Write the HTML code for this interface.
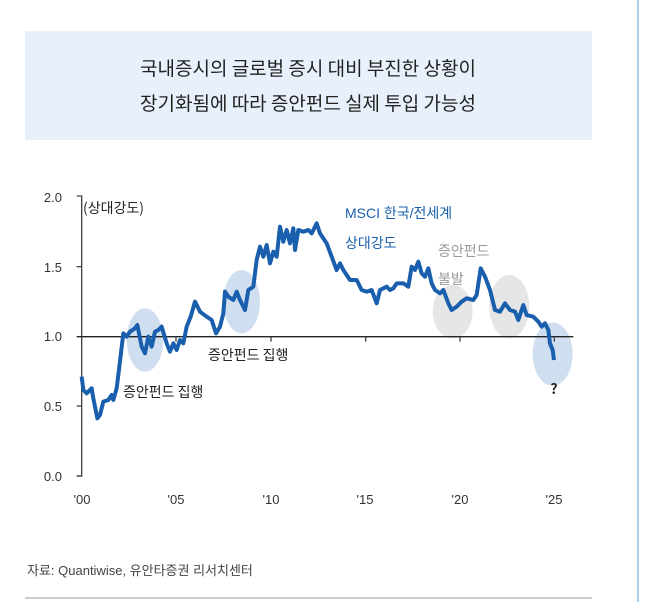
<!DOCTYPE html>
<html><head><meta charset="utf-8"><style>
body{margin:0;background:#fff;width:670px;height:602px;overflow:hidden;font-family:"Liberation Sans","Noto Sans CJK KR",sans-serif;}
</style></head><body>
<svg width="670" height="602" xmlns="http://www.w3.org/2000/svg" style="position:absolute;left:0;top:0">
<rect x="25" y="31" width="567" height="109" fill="#e8f1fb"/>
<line x1="638" y1="0" x2="638" y2="602" stroke="#a9cdee" stroke-width="2"/>
<text x="308" y="75" text-anchor="middle" font-size="19" fill="#222" font-family="Noto Sans CJK KR, sans-serif">국내증시의 글로벌 증시 대비 부진한 상황이</text>
<text x="308" y="110" text-anchor="middle" font-size="19" fill="#222" font-family="Noto Sans CJK KR, sans-serif">장기화됨에 따라 증안펀드 실제 투입 가능성</text>
<g font-size="13" fill="#333" text-anchor="end" font-family="Liberation Sans, sans-serif">
<text x="62" y="202">2.0</text><text x="62" y="272">1.5</text><text x="62" y="341">1.0</text><text x="62" y="411">0.5</text><text x="62" y="481">0.0</text>
</g>
<g font-size="13" fill="#333" text-anchor="middle">
<text x="82" y="504">'00</text><text x="176" y="504">'05</text><text x="271" y="504">'10</text><text x="365" y="504">'15</text><text x="460" y="504">'20</text><text x="554" y="504">'25</text>
</g>
<g transform="translate(60 180) scale(0.33333)">
<ellipse cx="255" cy="480" rx="55" ry="95" fill="#cfdff0"/>
<ellipse cx="545" cy="365" rx="55" ry="95" fill="#cfdff0"/>
<ellipse cx="1178" cy="395" rx="60" ry="80" fill="#e6e6e6"/>
<ellipse cx="1348" cy="380" rx="60" ry="95" fill="#e6e6e6"/>
<ellipse cx="1478" cy="522" rx="60" ry="95" fill="#cfdff0"/>
<polyline fill="none" stroke="#444" stroke-width="4" points="50,48 65,48 65,888 50,888"/>
<line x1="50" y1="888" x2="65" y2="888" stroke="#444" stroke-width="4"/>
<line x1="50" y1="678" x2="65" y2="678" stroke="#444" stroke-width="4"/>
<line x1="50" y1="260" x2="65" y2="260" stroke="#444" stroke-width="4"/>
<line x1="50" y1="470" x2="1540" y2="470" stroke="#222" stroke-width="4"/>
<g stroke="#444" stroke-width="4"><line x1="348" y1="470" x2="348" y2="485"/><line x1="633" y1="470" x2="633" y2="485"/><line x1="917" y1="470" x2="917" y2="485"/><line x1="1200" y1="470" x2="1200" y2="485"/><line x1="1483" y1="470" x2="1483" y2="485"/></g>
<polyline fill="none" stroke="#1a5fad" stroke-width="12" stroke-linejoin="round" points="65,590 70,630 80,640 95,625 100,655 112,715 120,705 130,665 145,660 155,645 160,660 170,625 178,560 190,460 200,470 210,455 225,445 232,435 245,500 255,520 265,470 275,500 285,455 295,450 305,440 320,490 330,515 340,490 350,510 360,480 370,490 380,440 392,410 405,365 420,395 440,410 455,420 468,460 480,440 490,400 495,335 505,350 520,360 530,335 540,360 555,390 565,330 580,320 590,240 600,200 610,230 620,195 630,250 640,215 650,230 660,140 670,185 680,150 690,190 700,145 705,210 715,150 730,155 745,150 755,160 770,130 780,160 800,190 815,230 830,270 840,250 850,270 870,300 890,300 905,330 920,335 935,330 950,370 960,330 980,320 990,330 1000,325 1010,310 1030,310 1045,320 1055,260 1065,270 1075,245 1085,280 1095,290 1105,265 1115,310 1125,330 1140,340 1150,330 1165,370 1175,390 1190,380 1205,365 1220,355 1240,360 1250,345 1262,265 1275,290 1290,330 1305,390 1320,395 1335,370 1350,390 1365,395 1375,420 1390,375 1400,405 1420,410 1435,425 1445,440 1455,430 1465,450 1470,490 1478,510 1482,540"/>
</g>
<g font-family="Noto Sans CJK KR, sans-serif" font-size="14">
<text x="83" y="213" fill="#222">(상대강도)</text>
<text x="345" y="218" fill="#1a5fad" font-family="Liberation Sans, Noto Sans CJK KR, sans-serif">MSCI 한국/전세계</text>
<text x="345" y="248" fill="#1a5fad">상대강도</text>
<text x="438" y="256" fill="#999">증안펀드</text>
<text x="438" y="284" fill="#999">불발</text>
<text x="208" y="360" fill="#222">증안펀드 집행</text>
<text x="123" y="397" fill="#222">증안펀드 집행</text>
<text x="554" y="394" fill="#222" font-weight="bold" text-anchor="middle">?</text>
</g>
<text x="27" y="575" font-size="13" fill="#444" font-family="Liberation Sans, Noto Sans CJK KR, sans-serif">자료: Quantiwise, 유안타증권 리서치센터</text>
<line x1="25" y1="598" x2="592" y2="598" stroke="#999" stroke-width="1"/>
</svg>
</body></html>
